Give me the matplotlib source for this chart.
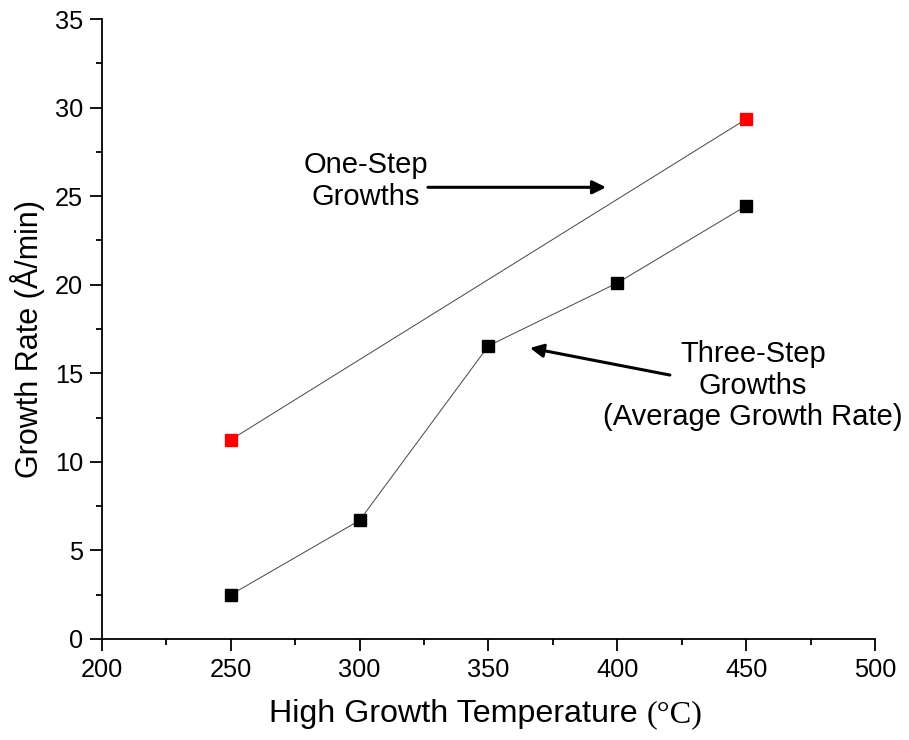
import matplotlib.pyplot as plt
from matplotlib.ticker import MultipleLocator

plt.rcParams['font.family'] = ['Liberation Sans', 'DejaVu Sans']

# Growth rates (A/min) against high growth temperature (C)
three_step_temp = [250, 300, 350, 400, 450]
three_step_rate = [2.5, 6.7, 16.55, 20.1, 24.45]
one_step_temp = [250, 450]
one_step_rate = [11.25, 29.35]

fig = plt.figure(figsize=(9.09, 7.4), dpi=100)
ax = fig.add_axes([0.1122, 0.1365, 0.8504, 0.8378])

ax.plot(one_step_temp, one_step_rate, color='#444444', lw=0.7, zorder=2)
ax.plot(one_step_temp, one_step_rate, 's', color='red', ms=9.2, mec='red', zorder=3)
ax.plot(three_step_temp, three_step_rate, color='#444444', lw=0.7, zorder=2)
ax.plot(three_step_temp, three_step_rate, 's', color='black', ms=9.2, zorder=3)

ax.set_xlim(200, 500)
ax.set_ylim(0, 35)
ax.xaxis.set_major_locator(MultipleLocator(50))
ax.xaxis.set_minor_locator(MultipleLocator(25))
ax.yaxis.set_major_locator(MultipleLocator(5))
ax.yaxis.set_minor_locator(MultipleLocator(2.5))
ax.tick_params(which='major', direction='out', length=8.5, width=1.3, labelsize=18.3, pad=5)
ax.tick_params(which='minor', direction='out', length=4.5, width=1.3)
for side in ['top', 'right']:
    ax.spines[side].set_visible(False)
for side in ['left', 'bottom']:
    ax.spines[side].set_linewidth(1.3)

# axis titles
ax.text(-0.097, 0.484, 'Growth Rate (Å/min)', transform=ax.transAxes,
        rotation=90, ha='center', va='center', fontsize=22)
ax.text(0.705, -0.134, 'High Growth Temperature ', transform=ax.transAxes,
        ha='right', va='baseline', fontsize=23.2)
ax.text(0.705, -0.134, '(°C)', transform=ax.transAxes,
        ha='left', va='baseline', fontsize=23.2, family='Liberation Serif')

# callouts
arrow = dict(arrowstyle='-|>', color='black', lw=2.2, mutation_scale=20, shrinkA=0, shrinkB=0)
ax.text(302.4, 25.85, 'One-Step\nGrowths', ha='center', va='center', fontsize=21, linespacing=1.15)
ax.annotate('', xy=(395.6, 25.5), xytext=(326.5, 25.5), arrowprops=arrow)
ax.text(452.6, 14.3, 'Three-Step\nGrowths\n(Average Growth Rate)', ha='center', va='center',
        fontsize=21, linespacing=1.15)
ax.annotate('', xy=(366.1, 16.43), xytext=(420.4, 14.9), arrowprops=arrow)

fig.savefig('out.png', dpi=100)
